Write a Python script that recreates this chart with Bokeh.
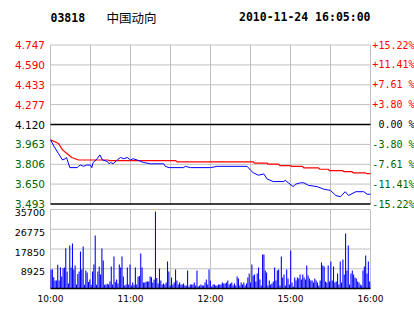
import numpy as np
from bokeh.plotting import figure
from bokeh.models import ColumnDataSource, Range1d
from bokeh.core.properties import value
from bokeh.embed import file_html
from bokeh.resources import INLINE

# ---------------- data ----------------
stock_code = "03818"
stock_name = "中国动向"
stamp = "2010-11-24 16:05:00"
prev_close = 4.120

price_ticks = [4.747, 4.590, 4.433, 4.277, 4.120, 3.963, 3.806, 3.650, 3.493]
price_labels = ["4.747", "4.590", "4.433", "4.277", "4.120", "3.963", "3.806", "3.650", "3.493"]
pct_labels = ["+15.22%", "+11.41%", "+7.61 %", "+3.80 %", "0.00 %", "-3.80 %", "-7.61 %", "-11.41%", "-15.22%"]

vol_ticks = [35700, 26775, 17850, 8925]
vol_labels = ["35700", "26775", "17850", "8925"]

time_ticks = [0, 60, 120, 180, 240]          # trading minutes since 10:00
time_labels = ["10:00", "11:00", "12:00", "15:00", "16:00"]
grid_minutes = [30, 60, 90, 120, 150, 180, 210]

# last price (trading minute, price)
blue_t = [0, 2.5, 6, 9, 11, 12, 14.5, 20, 21, 22.5, 25, 27, 30, 31, 32, 35, 37, 39, 42.5, 44, 45,
          47, 50, 52.5, 55, 57.5, 60, 62, 65, 67.5, 70, 75, 85, 86, 89, 100, 101, 105, 120, 125,
          140, 147.5, 150, 152, 156, 160, 162.5, 167, 175, 176, 182, 184, 187.5, 190, 193.5, 200,
          205, 210, 214, 217.5, 221, 223.5, 229, 235, 237.5, 240]
blue_p = [4.00, 3.95, 3.89, 3.84, 3.85, 3.86, 3.78, 3.78, 3.79, 3.80, 3.79, 3.80, 3.80, 3.78, 3.82,
          3.85, 3.88, 3.84, 3.83, 3.81, 3.82, 3.81, 3.84, 3.86, 3.85, 3.86, 3.84, 3.85, 3.84, 3.83,
          3.82, 3.81, 3.81, 3.79, 3.78, 3.78, 3.79, 3.78, 3.78, 3.79, 3.79, 3.79, 3.76, 3.74, 3.72,
          3.73, 3.69, 3.67, 3.67, 3.68, 3.63, 3.65, 3.66, 3.66, 3.64, 3.63, 3.61, 3.60, 3.56, 3.55,
          3.59, 3.56, 3.59, 3.59, 3.57, 3.57]

# average price (trading minute, price)
avg_t = [0, 6, 9, 12.5, 16, 21, 43, 44, 94, 95, 152, 153, 162.5, 163, 171, 172, 180, 181, 189,
         190, 201, 202, 208.5, 209, 219, 220, 226, 227, 236, 237, 240]
avg_p = [4.00, 3.97, 3.92, 3.89, 3.86, 3.84, 3.84, 3.835, 3.835, 3.826, 3.826, 3.815, 3.815, 3.807,
         3.807, 3.796, 3.796, 3.789, 3.789, 3.778, 3.778, 3.767, 3.767, 3.757, 3.757, 3.749, 3.749,
         3.739, 3.739, 3.733, 3.733]

# per-minute volume
vol_a = [8600, 8600, 5100, 3600, 3600, 10700, 3600, 9600, 5400, 9200, 9500, 18200, 7700, 2300,
         19400, 9500, 20300, 8600, 10400, 1800, 6600, 7700, 16700, 8600, 19000, 1700, 8100, 7200,
         2900, 4100, 1700, 7700, 10900, 24000, 1700, 7700, 9900, 6300, 18100, 12700, 1700, 1800,
         2100, 1800, 3200, 9900, 1800, 14500, 2900, 4100, 2300, 10900, 9500, 14500, 5400, 1400,
         1800, 9500, 1800, 10900]
vol_b = [1400, 2700, 1700, 9500, 1800, 5300, 5600, 15800, 9500, 2700, 2700, 3000, 3200, 3200,
         5400, 5100, 2700, 4100, 34800, 4700, 2300, 9000, 3600, 1800, 2300, 1800, 2700, 12200,
         7700, 1400, 5000, 1800, 2700, 8600, 3600, 1800, 2700, 1800, 1800, 2300, 1400, 1400, 8100,
         900, 1800, 1800, 1800, 2700, 1400, 8100, 900, 1400, 1800, 1400, 1400, 2700, 4100, 1800,
         8600, 3600]
vol_c = [900, 1800, 1800, 1400, 1400, 1800, 1800, 1800, 2700, 2300, 2300, 2700, 3600, 1800, 2300,
         2700, 1400, 2300, 1400, 5400, 4500, 1400, 2700, 1800, 2700, 1400, 2300, 5000, 6800, 2700,
         10900, 5900, 6300, 3200, 6800, 9500, 4100, 1400, 15400, 15400, 8100, 7200, 1400, 3600,
         1800, 2300, 3200, 9500, 3600, 8100, 8600, 1400, 14500, 5000, 6300, 1400, 8600, 4500]
vol_d = [1800, 17200, 2700, 900, 5000, 3600, 5000, 4500, 6300, 4100, 6300, 5000, 4100, 10400,
         5900, 4500, 3600, 3600, 2700, 4500, 3600, 2700, 1400, 3600, 11800, 10400, 9900, 3200,
         2700, 10400, 3200, 12200, 3600, 9900, 2700, 3200, 6800, 1800, 12200, 2700, 13100, 6300,
         24900, 8100, 19400, 1800, 6800, 8100, 6300, 5000, 4500, 3200, 2700, 1800, 1400, 8100,
         9900, 14900, 6800, 12200, 3200]

# ---------------- layout (pixels of the 414x314 canvas) ----------------
W, H = 414, 314
T0, T1 = 0, 240
X_LEFT, X_RIGHT = 50, 370          # plot panels, horizontal
P_TOP, P_BOT = 44.5, 203.5         # price panel
V_TOP, V_BOT = 209, 288            # volume panel

RED = "#ff0000"
GREEN = "#006400"
BLUE = "#0000ff"
GRID = "#c0c0c0"

# ranges chosen so that the whole canvas is the frame and the panels land on the pixels above
mpp = (T1 - T0) / (X_RIGHT - X_LEFT)
x_range = Range1d(T0 - X_LEFT * mpp, T1 + (W - X_RIGHT) * mpp)
pmax, pmin = price_ticks[0], price_ticks[-1]
ppp = (pmax - pmin) / (P_BOT - P_TOP)
price_range = Range1d(pmin - (H - P_BOT) * ppp, pmax + P_TOP * ppp)
vmax = vol_ticks[0]
vpp = vmax / (V_BOT - V_TOP)
vol_range = Range1d(0 - (H - V_BOT) * vpp, vmax + V_TOP * vpp)

p = figure(width=W, height=H, x_range=x_range, y_range=price_range,
           x_axis_type=None, y_axis_type=None, toolbar_location=None, output_backend="svg",
           min_border=0, min_border_left=0, min_border_right=0, min_border_top=0, min_border_bottom=0,
           outline_line_color=None, background_fill_color="white", border_fill_color="white")
p.grid.visible = False
p.extra_y_ranges = {"vol": vol_range}

# ---- price panel frame and grid ----
inner_p = [t for t in price_ticks[1:-1] if abs(t - prev_close) > 1e-9]
p.segment(x0=[T0] * len(inner_p), x1=[T1] * len(inner_p), y0=inner_p, y1=inner_p,
          line_color=GRID, line_width=1)
p.segment(x0=grid_minutes, x1=grid_minutes, y0=[pmin] * len(grid_minutes), y1=[pmax] * len(grid_minutes),
          line_color=GRID, line_width=1)
p.segment(x0=[T0, T1], x1=[T0, T1], y0=[pmin, pmin], y1=[pmax, pmax], line_color=GRID, line_width=1)
p.segment(x0=[T0], x1=[T1], y0=[pmax], y1=[pmax], line_color=GRID, line_width=1)
p.segment(x0=[T0, T0], x1=[T1, T1], y0=[prev_close, pmin], y1=[prev_close, pmin],
          line_color="black", line_width=1.3)

# ---- volume panel frame and grid ----
inner_v = vol_ticks[1:]
p.segment(x0=[T0] * len(inner_v), x1=[T1] * len(inner_v), y0=inner_v, y1=inner_v,
          line_color=GRID, line_width=1, y_range_name="vol")
p.segment(x0=grid_minutes, x1=grid_minutes, y0=[0] * len(grid_minutes), y1=[vmax] * len(grid_minutes),
          line_color=GRID, line_width=1, y_range_name="vol")
p.segment(x0=[T0, T1], x1=[T0, T1], y0=[0, 0], y1=[vmax, vmax], line_color=GRID, line_width=1,
          y_range_name="vol")
p.segment(x0=[T0], x1=[T1], y0=[vmax], y1=[vmax], line_color=GRID, line_width=1, y_range_name="vol")

# ---- data ----
p.line(avg_t, avg_p, line_color=RED, line_width=1.2)
p.line(blue_t, blue_p, line_color=BLUE, line_width=1)

vol = vol_a + vol_b + vol_c + vol_d
n = len(vol)
vt = np.arange(n) * (T1 - T0) / n + T0
p.quad(left=vt, right=vt + 0.8, bottom=0, top=vol, fill_color=BLUE, line_color=None,
       y_range_name="vol")
p.segment(x0=[T0], x1=[T1], y0=[0], y1=[0], line_color="black", line_width=1.3, y_range_name="vol")

# ---- texts ----
def label_colors(ticks):
    return [RED if t > prev_close + 1e-9 else ("black" if abs(t - prev_close) < 1e-9 else GREEN)
            for t in ticks]

cols = label_colors(price_ticks)
left_src = ColumnDataSource(dict(x=[T0] * len(price_ticks), y=price_ticks, text=price_labels, color=cols))
p.text(x="x", y="y", text="text", source=left_src, x_offset=-5.5, text_align="right",
       text_baseline="middle", text_color="color", text_font=value("DejaVu Sans"),
       text_font_size=value("10.5px"))
right_src = ColumnDataSource(dict(x=[T1] * len(price_ticks), y=price_ticks, text=pct_labels, color=cols))
p.text(x="x", y="y", text="text", source=right_src, x_offset=44, text_align="right",
       text_baseline="middle", text_color="color", text_font=value("DejaVu Sans Mono"),
       text_font_size=value("10px"))

vsrc = ColumnDataSource(dict(x=[T0] * len(vol_ticks), y=vol_ticks, text=vol_labels))
p.text(x="x", y="y", text="text", source=vsrc, x_offset=-5.5, y_offset=3, text_align="right",
       text_baseline="middle", text_color="black", text_font=value("DejaVu Sans"),
       text_font_size=value("9.5px"), y_range_name="vol")
tsrc = ColumnDataSource(dict(x=time_ticks, y=[0] * len(time_ticks), text=time_labels))
p.text(x="x", y="y", text="text", source=tsrc, y_offset=10.7, text_align="center",
       text_baseline="middle", text_color="black", text_font=value("DejaVu Sans"),
       text_font_size=value("9px"), y_range_name="vol")

# header (27.8 px above the price panel)
p.text(x=[T0], y=[pmax], text=[stock_code], y_offset=-27.8, text_align="left", text_baseline="middle",
       text_color="black", text_font=value("DejaVu Sans Mono"), text_font_style="bold",
       text_font_size=value("11.5px"))
p.text(x=[T0], y=[pmax], text=[stock_name], x_offset=56, y_offset=-27.8, text_align="left",
       text_baseline="middle", text_color="black", text_font=value("Noto Sans CJK SC"),
       text_font_size=value("12.5px"))
p.text(x=[T1], y=[pmax], text=[stamp], y_offset=-27.8, text_align="right", text_baseline="middle",
       text_color="black", text_font=value("DejaVu Sans Mono"), text_font_style="bold",
       text_font_size=value("11.5px"))

open("out.html", "w").write(file_html(p, INLINE))
